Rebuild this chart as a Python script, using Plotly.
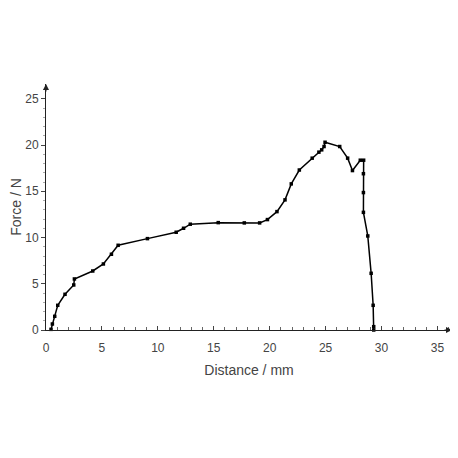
import plotly.graph_objects as go

# force-distance curve
distance_mm = [0.45, 0.57, 0.78, 1.05, 1.7, 2.48, 2.54, 4.18, 5.13, 5.85, 6.45,
               9.07, 11.64, 12.3, 12.9, 15.4, 17.73, 19.1, 19.8, 20.65, 21.37,
               21.93, 22.65, 23.8, 24.4, 24.65, 24.86, 24.95, 26.26, 26.97,
               27.4, 28.1, 28.4, 28.38, 28.38, 28.38, 28.77, 29.07, 29.25,
               29.3, 29.3]
force_n = [0.07, 0.65, 1.48, 2.67, 3.86, 4.87, 5.52, 6.38, 7.14, 8.19, 9.16,
           9.88, 10.57, 11.0, 11.44, 11.61, 11.58, 11.58, 11.94, 12.8, 14.07,
           15.8, 17.3, 18.58, 19.23, 19.48, 19.84, 20.3, 19.84, 18.58,
           17.24, 18.36, 18.36, 16.9, 14.86, 12.72, 10.17, 6.13, 2.67,
           0.36, 0.0]

x_max = 36.3
y_max = 26.6

fig = go.Figure()

fig.add_trace(
    go.Scatter(x=distance_mm,
               y=force_n,
               mode='lines+markers',
               line=dict(color='black', width=1.5),
               marker=dict(symbol='square', size=3.5, color='black'),
               cliponaxis=False,
               showlegend=False))

# arrow heads at the ends of both axes
fig.add_annotation(x=x_max, y=0, xref='x', yref='y', ax=-9, ay=0,
                   showarrow=True, arrowhead=2, arrowsize=1.2, arrowwidth=1,
                   arrowcolor='#222', text='')
fig.add_annotation(x=0, y=y_max, xref='x', yref='y', ax=0, ay=9,
                   showarrow=True, arrowhead=2, arrowsize=1.2, arrowwidth=1,
                   arrowcolor='#222', text='')

fig.update_xaxes(
    range=[0, x_max],
    tickvals=[0, 5, 10, 15, 20, 25, 30, 35],
    ticks='inside', ticklen=4, tickcolor='#444',
    ticklabelstandoff=7,
    minor=dict(dtick=1, ticks='inside', ticklen=3, tickcolor='#666'),
    showline=True, linecolor='#222', linewidth=1,
    showgrid=False, zeroline=False, automargin=False,
    title=dict(text='Distance / mm', standoff=10),
)
fig.update_yaxes(
    range=[0, y_max],
    tickvals=[0, 5, 10, 15, 20, 25],
    ticks='outside', ticklen=4, tickcolor='#444',
    minor=dict(dtick=1, ticks='outside', ticklen=2, tickcolor='#aaa'),
    showline=True, linecolor='#222', linewidth=1,
    showgrid=False, zeroline=False, automargin=False,
    title=dict(text='Force / N', standoff=22),
)

# page body adds an 8px offset, so the figure is drawn 8px smaller
fig.update_layout(
    width=450, height=450,
    margin=dict(l=38, r=6, t=76, b=128),
    plot_bgcolor='white',
    paper_bgcolor='white',
    font=dict(family='Liberation Sans', size=12, color='#444'),
)

fig.write_html("out.html")
